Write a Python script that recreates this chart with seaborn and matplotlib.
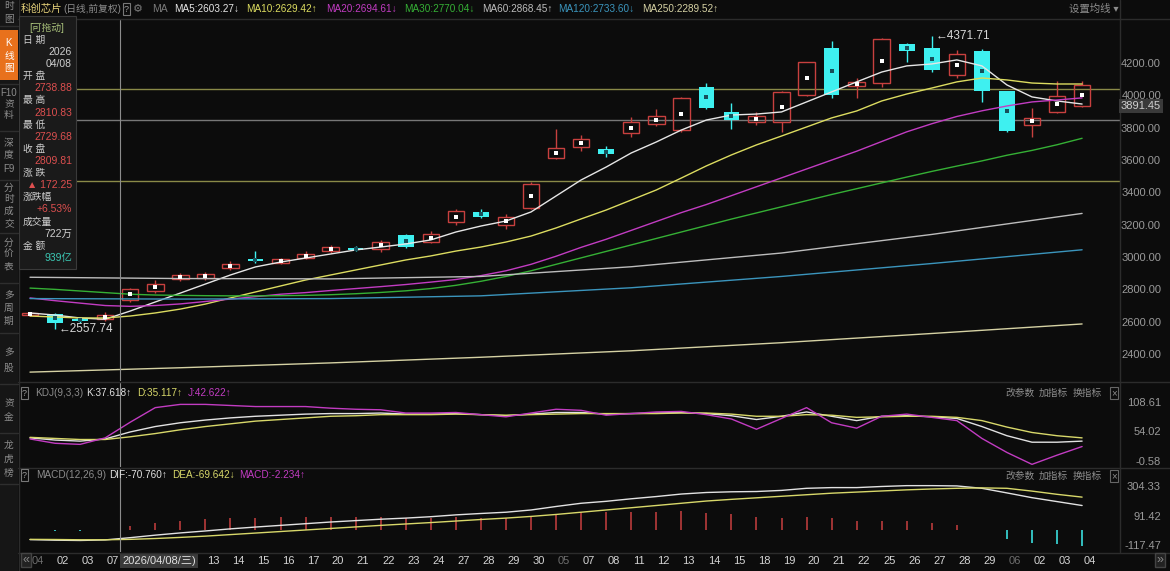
import matplotlib
matplotlib.use("Agg")
import matplotlib.pyplot as plt
import matplotlib.transforms as mtransforms
from matplotlib.patches import Rectangle
import numpy as np
import pandas as pd
import seaborn as sns

# ---------------- data ----------------
dates = ["04", "02", "03", "07", "08", "09", "10", "13", "14", "15", "16", "17", "20", "21",
         "22", "23", "24", "27", "28", "29", "30", "05", "07", "08", "11", "12", "13", "14",
         "15", "18", "19", "20", "21", "22", "25", "26", "27", "28", "29", "06", "02", "03", "04"]
month_marks = [0, 21, 39]

opens = [2645, 2655, 2622, 2622, 2738.88, 2795, 2868, 2878, 2935, 2995, 2970, 2998, 3040, 3062,
         3055, 3140, 3100, 3220, 3282, 3205, 3310, 3620, 3685, 3672, 3770, 3830, 3790, 4060,
         3905, 3840, 3840, 4010, 4300, 4065, 4080, 4322, 4300, 4130, 4280, 4030, 3825, 3900, 3940]
highs = [2668, 2660, 2630, 2668, 2810.83, 2860, 2905, 2912, 2978, 3040, 3002, 3040, 3078, 3075,
         3112, 3148, 3165, 3305, 3305, 3272, 3470, 3800, 3762, 3690, 3872, 3920, 3998, 4085,
         3960, 3900, 4030, 4215, 4340, 4110, 4362, 4332, 4371.71, 4285, 4290, 4035, 3925, 4095, 4095]
lows = [2638, 2557.74, 2600, 2612, 2729.68, 2785, 2858, 2866, 2925, 2968, 2962, 2990, 3030, 3042,
        3038, 3058, 3090, 3205, 3245, 3180, 3300, 3610, 3660, 3622, 3750, 3818, 3780, 3920,
        3800, 3820, 3780, 4000, 3990, 3990, 4060, 4210, 4150, 4115, 3965, 3780, 3750, 3895, 3935]
closes = [2660, 2598, 2608, 2648, 2809.81, 2840, 2892, 2898, 2962, 2978, 2992, 3025, 3065, 3050,
          3100, 3070, 3150, 3290, 3255, 3255, 3460, 3680, 3735, 3640, 3840, 3880, 3990, 3930,
          3855, 3880, 4025, 4210, 4010, 4090, 4355, 4280, 4160, 4260, 4030, 3785, 3865, 4000, 4070]

ma5 = [2659, 2646, 2628, 2620, 2671, 2727, 2782, 2838, 2894, 2944, 2974, 2999, 3024, 3049, 3067,
       3086, 3111, 3160, 3197, 3228, 3284, 3383, 3482, 3562, 3649, 3717, 3791, 3853, 3884, 3890,
       3903, 3965, 4027, 4089, 4150, 4188, 4200, 4225, 4188, 4070, 3996, 3971, 3952]
ma10 = [2640, 2634, 2628, 2628, 2640, 2659, 2683, 2714, 2752, 2789, 2826, 2863, 2894, 2925, 2956,
        2987, 3012, 3042, 3067, 3098, 3135, 3185, 3241, 3296, 3358, 3420, 3494, 3569, 3637, 3699,
        3754, 3810, 3866, 3909, 3971, 4014, 4051, 4089, 4113, 4101, 4082, 4076, 4076]
ma20 = [2752, 2735, 2720, 2705, 2700, 2705, 2715, 2730, 2745, 2760, 2775, 2785, 2798, 2810, 2822,
        2835, 2850, 2866, 2890, 2920, 2960, 3010, 3065, 3115, 3170, 3225, 3280, 3330, 3385, 3440,
        3495, 3550, 3605, 3660, 3720, 3780, 3830, 3875, 3910, 3940, 3965, 3977, 3990]
ma30 = [2813, 2805, 2795, 2785, 2775, 2770, 2768, 2766, 2765, 2765, 2766, 2768, 2772, 2778, 2786,
        2796, 2810, 2830, 2855, 2885, 2920, 2960, 3000, 3040, 3080, 3120, 3160, 3200, 3240, 3278,
        3316, 3354, 3392, 3428, 3464, 3500, 3535, 3568, 3600, 3635, 3665, 3700, 3740]

# long averages, read at a few dates
long_idx = [0, 6, 12, 18, 24, 30, 36, 42]
ma60 = [2880, 2872, 2870, 2885, 2945, 3030, 3145, 3275]
ma120 = [2748, 2745, 2748, 2765, 2815, 2885, 2965, 3050]
ma250 = [2293, 2320, 2350, 2385, 2425, 2475, 2532, 2591]

hlines = [4045, 3853, 3475]
hline_colors = ["#8a8a48", "#777777", "#8a8a48"]

k_vals = [44, 40, 38, 42, 55, 65, 72, 77, 81, 84, 86, 88, 89, 89, 90, 88, 88, 89, 87, 85, 88, 91,
          91, 88, 89, 90, 91, 89, 85, 78, 84, 92, 84, 76, 84, 85, 83, 80, 65, 48, 36, 36, 38]
d_vals = [45, 43, 41, 41, 46, 52, 59, 65, 70, 75, 78, 81, 84, 85, 87, 87, 87, 88, 87, 86, 87, 88,
          89, 89, 89, 89, 90, 90, 88, 84, 84, 87, 86, 82, 83, 84, 84, 82, 76, 64, 54, 48, 44]
j_vals = [42, 34, 32, 44, 73, 100, 106, 106, 104, 102, 102, 102, 99, 97, 96, 90, 90, 91, 87, 83,
          90, 97, 95, 86, 89, 92, 93, 87, 79, 60, 80, 100, 72, 62, 84, 88, 82, 76, 43, 17, -5, 12, 28]

dif = [-72, -76, -78, -74, -58, -40, -24, -10, 5, 18, 30, 42, 54, 64, 74, 82, 92, 105, 115, 124,
       140, 165, 188, 202, 220, 236, 254, 265, 270, 272, 280, 295, 300, 300, 308, 314, 314, 312,
       295, 262, 228, 200, 172]
dea = [-70, -71, -73, -73, -70, -64, -56, -47, -36, -25, -14, -3, 8, 19, 30, 40, 50, 61, 72, 82,
       94, 108, 124, 140, 156, 172, 188, 204, 216, 227, 238, 249, 260, 268, 276, 284, 290, 295,
       298, 295, 275, 252, 232]
macd_bar = [-4, -10, -10, -2, 24, 48, 64, 74, 82, 86, 88, 90, 92, 90, 88, 84, 84, 88, 86, 84, 92,
            114, 128, 124, 128, 128, 132, 122, 108, 90, 84, 92, 80, 64, 64, 60, 48, 34, -6, -66,
            -94, -104, -120]

price_ticks = [2400, 2600, 2800, 3000, 3200, 3400, 3600, 3800, 4000, 4200]
kdj_ticks = [108.61, 54.02, -0.58]
macd_ticks = [304.33, 91.42, -117.47]

ma_names = ["MA5", "MA10", "MA20", "MA30", "MA60", "MA120", "MA250"]
ma_head = [2603.27, 2629.42, 2694.61, 2770.04, 2868.45, 2733.60, 2289.52]
ma_dir = ["↓", "↑", "↓", "↓", "↑", "↓", "↑"]
ma_colors = ["#e6e6e6", "#dcdc60", "#c23cc2", "#35b035", "#bdbdbd", "#3b95bd", "#d6d2a4"]

info_rows = [("日 期", None), (None, "2026"), (None, "04/08"), ("开 盘", None), (None, "2738.88"),
             ("最 高", None), (None, "2810.83"), ("最 低", None), (None, "2729.68"),
             ("收 盘", None), (None, "2809.81"), ("涨 跌", None), (None, "▲ 172.25"),
             ("涨跌幅", None), (None, "+6.53%"), ("成交量", None), (None, "722万"),
             ("金 额", None), (None, "939亿")]

cross_idx = 3.6
cross_label = "2026/04/08/三)"

# ---------------- styling ----------------
BG = "#0c0c0c"
UP = "#c8403f"
DOWN = "#3ef0f0"
GRID = "#2c2c2c"
TXT = "#9a9a9a"

sns.set_theme(style="dark", rc={"axes.facecolor": BG, "figure.facecolor": BG,
                                "axes.grid": False, "savefig.facecolor": BG})
plt.rcParams["font.family"] = ["Liberation Sans", "Noto Sans CJK SC", "DejaVu Sans"]

W, H = 1170, 571
fig = plt.figure(figsize=(W / 100, H / 100), dpi=100)


def px(x0, y0, x1, y1):
    return [x0 / W, 1 - y1 / H, (x1 - x0) / W, (y1 - y0) / H]


def ftext(x, y, s, **kw):
    kw.setdefault("va", "center")
    kw.setdefault("fontsize", 7.5)
    return fig.text(x / W, 1 - y / H, s, **kw)


def frect(x0, y0, x1, y1, **kw):
    r = Rectangle((x0 / W, 1 - y1 / H), (x1 - x0) / W, (y1 - y0) / H,
                  transform=fig.transFigure, **kw)
    fig.add_artist(r)
    return r


def fline(x0, y0, x1, y1, **kw):
    fig.add_artist(plt.Line2D([x0 / W, x1 / W], [1 - y0 / H, 1 - y1 / H],
                              transform=fig.transFigure, **kw))


XLIM = (-(30 - 20) / 25.05, (1120 - 30) / 25.05)


def clean(a):
    a.set_xlim(*XLIM)
    a.set_xticks([])
    a.set_yticks([])
    a.set_xlabel("")
    a.set_ylabel("")
    for s in a.spines.values():
        s.set_visible(False)


def right_labels(a, ticks, fmt="{:.2f}"):
    tr = mtransforms.blended_transform_factory(fig.transFigure, a.transData)
    for t in ticks:
        a.text(1161 / W, t, fmt.format(t), transform=tr, ha="right", va="center",
               fontsize=8, color=TXT)


idx = np.arange(len(dates))
o, h, l, c = map(np.array, (opens, highs, lows, closes))
up = c >= o
lo_b = np.minimum(o, c)
hi_b = np.maximum(o, c)
hgt = np.maximum(hi_b - lo_b, 6)

# ---------------- main price panel ----------------
ax = fig.add_axes(px(20, 20, 1120, 381))
ax.set_facecolor(BG)

for v, col in zip(hlines, hline_colors):
    ax.axhline(v, color=col, lw=1, zorder=1)

ax.vlines(idx[up], hi_b[up], h[up], color=UP, lw=1, zorder=3)
ax.vlines(idx[up], l[up], lo_b[up], color=UP, lw=1, zorder=3)
ax.vlines(idx[~up], l[~up], h[~up], color=DOWN, lw=1, zorder=3)
ax.bar(idx[up], hgt[up], bottom=lo_b[up], width=0.66, facecolor="none",
       edgecolor=UP, linewidth=1, zorder=3)
ax.bar(idx[~up], hgt[~up], bottom=lo_b[~up], width=0.62, color=DOWN, linewidth=0, zorder=3)
mid = (o + c) / 2
ax.scatter(idx[up], mid[up], marker="s", s=8, color="white", linewidths=0, zorder=6)
ax.scatter(idx[~up], mid[~up], marker="s", s=8, color="#17505a", linewidths=0, zorder=6)

short_df = pd.DataFrame({"idx": idx, "MA5": ma5, "MA10": ma10, "MA20": ma20, "MA30": ma30})
long_df = pd.DataFrame({"idx": long_idx, "MA60": ma60, "MA120": ma120, "MA250": ma250})
for name, col in zip(ma_names, ma_colors):
    src = short_df if name in short_df else long_df
    sns.lineplot(data=src, x="idx", y=name, color=col, lw=1, ax=ax, legend=False, zorder=4)

i_lo = int(np.argmin(l))
i_hi = int(np.argmax(h))
ax.text(i_lo + 0.15, l[i_lo], "←" + f"{l[i_lo]:.2f}", color="#d8d8d8", fontsize=8.5,
        va="center", ha="left", zorder=7)
ax.text(i_hi + 0.15, h[i_hi], "←" + f"{h[i_hi]:.2f}", color="#d8d8d8", fontsize=8.5,
        va="center", ha="left", zorder=7)
ax.axvline(cross_idx, color="#8c8c8c", lw=0.8, zorder=5)
clean(ax)
ax.set_ylim(2238, 4472)
right_labels(ax, price_ticks)

# ---------------- KDJ panel ----------------
ak = fig.add_axes(px(20, 383, 1120, 467))
ak.set_facecolor(BG)
kdj_df = pd.DataFrame({"idx": idx, "K": k_vals, "D": d_vals, "J": j_vals})
for name, col in [("K", "#e2e2e2"), ("D", "#d8d86a"), ("J", "#c23cc2")]:
    sns.lineplot(data=kdj_df, x="idx", y=name, color=col, lw=1, ax=ak, legend=False)
ak.axvline(cross_idx, color="#8c8c8c", lw=0.8)
clean(ak)
ak.set_ylim(-9.9, 145.6)
right_labels(ak, kdj_ticks)

# ---------------- MACD panel ----------------
am = fig.add_axes(px(20, 469, 1120, 552))
am.set_facecolor(BG)
mb = np.array(macd_bar)
am.vlines(idx, 0, mb, colors=np.where(mb >= 0, UP, DOWN), lw=1.1)
macd_df = pd.DataFrame({"idx": idx, "DIF": dif, "DEA": dea})
for name, col in [("DIF", "#e2e2e2"), ("DEA", "#d8d86a")]:
    sns.lineplot(data=macd_df, x="idx", y=name, color=col, lw=1, ax=am, legend=False)
am.axvline(cross_idx, color="#8c8c8c", lw=0.8)
clean(am)
am.set_ylim(-160.4, 433)
right_labels(am, macd_ticks)

# ---------------- date strip ----------------
ad = fig.add_axes(px(20, 553, 1120, 568))
ad.set_facecolor(BG)
clean(ad)
ad.set_ylim(0, 1)
for i, d in enumerate(dates):
    if 4 <= i <= 6:
        continue
    col = "#6e6e6e" if i in month_marks else "#d4d4d4"
    ad.text(i + 0.3, 0.5, d, color=col, fontsize=8, ha="center", va="center")
ad.text(5.15, 0.5, cross_label, color="#e0e0e0", fontsize=8, ha="center", va="center",
        bbox=dict(boxstyle="square,pad=0.2", fc="#3a3a3a", ec="none"))
ftext(26, 560, "«", color="#8a8a8a", ha="center", fontsize=9,
      bbox=dict(boxstyle="square,pad=0.1", fc="#222222", ec="#444444"))
ftext(1160, 560, "»", color="#8a8a8a", ha="center", fontsize=9,
      bbox=dict(boxstyle="square,pad=0.1", fc="#222222", ec="#444444"))

# ---------------- frame lines ----------------
fline(1120, 0, 1120, 552, color=GRID, lw=1)
for yy in (18.5, 382, 468, 552.5):
    fline(18, yy, 1170, yy, color=GRID, lw=1)
fline(18.5, 0, 18.5, 571, color=GRID, lw=1)

# ---------------- header rows ----------------
ftext(21, 9, "科创芯片", color="#e6d27a")
ftext(63, 9, "(日线,前复权)", color="#8c8c8c", fontsize=7)
ftext(124, 9, "?", color="#9a9a9a", fontsize=6.5,
      bbox=dict(boxstyle="square,pad=0.15", fc="none", ec="#777777", lw=0.8))
ftext(138, 9, "⚙", color="#7a7a7a", fontsize=8, ha="center")
ftext(152, 9, "MA", color="#7a7a7a")
hdr_x = [174, 246, 326, 404, 482, 558, 642]
for x0, name, val, arr, col in zip(hdr_x, ma_names, ma_head, ma_dir, ma_colors):
    ftext(x0, 9, f"{name}:{val:.2f}{arr}", color=col, fontsize=7.2)
ftext(1069, 9, "设置均线 ▾", color="#8c8c8c")

ftext(22, 393, "?", color="#9a9a9a", fontsize=6.5,
      bbox=dict(boxstyle="square,pad=0.15", fc="none", ec="#777777", lw=0.8))
ftext(35, 393, "KDJ(9,3,3)", color="#8c8c8c", fontsize=7.2)
ftext(86, 393, "K:37.618↑", color="#e2e2e2", fontsize=7.2)
ftext(137, 393, "D:35.117↑", color="#d8d86a", fontsize=7.2)
ftext(188, 393, "J:42.622↑", color="#c23cc2", fontsize=7.2)

ftext(22, 475, "?", color="#9a9a9a", fontsize=6.5,
      bbox=dict(boxstyle="square,pad=0.15", fc="none", ec="#777777", lw=0.8))
ftext(36, 475, "MACD(12,26,9)", color="#8c8c8c", fontsize=7.2)
ftext(109, 475, "DIF:-70.760↑", color="#e2e2e2", fontsize=7.2)
ftext(172, 475, "DEA:-69.642↓", color="#d8d86a", fontsize=7.2)
ftext(239, 475, "MACD:-2.234↑", color="#c23cc2", fontsize=7.2)

for yy in (393, 476):
    ftext(1005, yy, "改参数", color="#8c8c8c", fontsize=7)
    ftext(1039, yy, "加指标", color="#8c8c8c", fontsize=7)
    ftext(1073, yy, "换指标", color="#8c8c8c", fontsize=7)
    ftext(1114, yy, "×", color="#8c8c8c", fontsize=7, ha="center",
          bbox=dict(boxstyle="square,pad=0.15", fc="none", ec="#666666", lw=0.8))

ftext(1161, 106, "3891.45", color="#d0d0d0", ha="right", fontsize=8,
      bbox=dict(boxstyle="square,pad=0.15", fc="#3a3a3a", ec="none"))

# ---------------- left sidebar ----------------
frect(0, 0, 18, 571, facecolor="#161616", edgecolor="none", zorder=0)
frect(0, 30, 18, 80, facecolor="#e8711c", edgecolor="none")
side_items = [("时", 6), ("图", 19), ("K", 43), ("线", 56), ("图", 68), ("F10", 93), ("资", 104),
              ("料", 115), ("深", 143), ("度", 154), ("F9", 169), ("分", 188), ("时", 199),
              ("成", 211), ("交", 224), ("分", 243), ("价", 254), ("表", 266), ("多", 295),
              ("周", 308), ("期", 321), ("多", 352), ("股", 368), ("资", 403), ("金", 417),
              ("龙", 445), ("虎", 459), ("榜", 473)]
for s, yy in side_items:
    col = "#ffffff" if 30 < yy < 80 else "#8c8c8c"
    ftext(9, yy, s, color=col, ha="center", fontsize=7)
for yy in (26, 84, 131, 180, 233, 283, 333, 384, 433, 484):
    fline(0, yy, 18, yy, color="#2e2e2e", lw=1)

# ---------------- info panel ----------------
frect(19, 16, 76, 269, facecolor="#1a1a1a", edgecolor="#3a3a3a", lw=0.8, zorder=5)
ftext(47, 28, "[可拖动]", color="#a8c07a", ha="center", fontsize=7, zorder=6)
red_vals = {"2738.88", "2810.83", "2729.68", "2809.81", "▲ 172.25", "+6.53%"}
for k, (lab, val) in enumerate(info_rows):
    yy = 40 + k * 12.1
    if lab:
        ftext(23, yy, lab, color="#cfcfcf", fontsize=7, zorder=6)
    else:
        col = "#dd4f4f" if val in red_vals else ("#3cc8b4" if "亿" in val else "#cfcfcf")
        ftext(72, yy, val, color=col, fontsize=7.5, ha="right", zorder=6)

fig.savefig("out.png", dpi=100, facecolor=BG)
